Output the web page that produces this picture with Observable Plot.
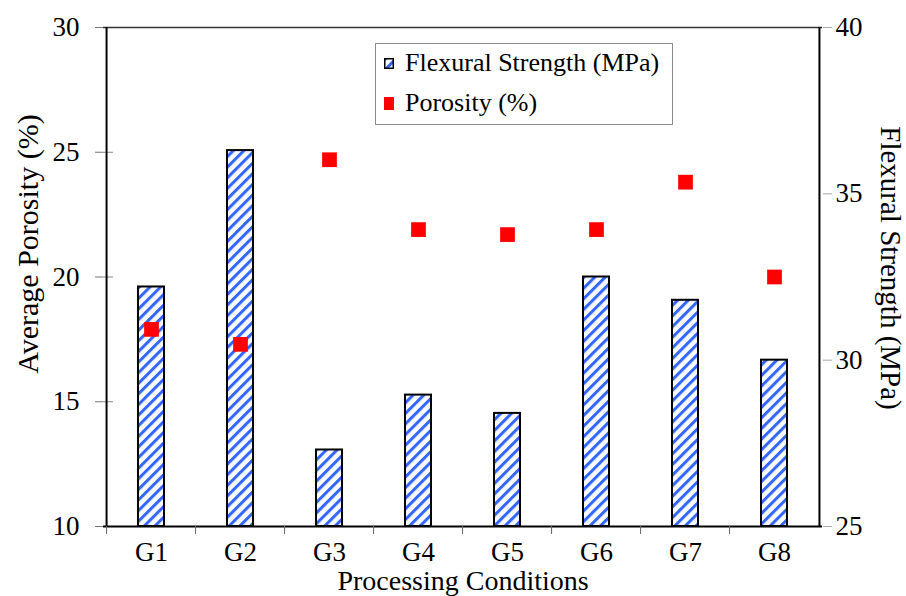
<!DOCTYPE html>
<html><head><meta charset="utf-8">
<script src="https://cdn.jsdelivr.net/npm/d3@7"></script>
<script src="https://cdn.jsdelivr.net/npm/@observablehq/plot@0.6"></script>
<style>
body{margin:0;background:#fff;}
#wrap{position:relative;width:906px;height:596px;overflow:hidden;font-family:"Liberation Serif","Times New Roman",serif;}
.legend{position:absolute;left:375px;top:43px;width:298px;height:82px;border:1.5px solid #8a8a8a;box-sizing:border-box;font-size:26px;color:#000;line-height:1;}
.legend .row{position:absolute;left:9px;display:flex;align-items:center;white-space:nowrap;}
.legend .sw{display:block;margin-right:11px;box-sizing:border-box;}
</style></head><body><div id="wrap"></div>
<script>
const categories = ["G1","G2","G3","G4","G5","G6","G7","G8"];
const flexural = [32.2, 36.3, 27.3, 28.95, 28.4, 32.5, 31.8, 30.0];
const porosity = [17.9, 17.3, 24.7, 21.9, 21.7, 21.9, 23.8, 20.0];
const porosityTicks = [10, 15, 20, 25, 30];
const flexuralTicks = [25, 30, 35, 40];
const porDomain = [10, 30];
const flexDomain = [25, 40];

const toPor = f => porDomain[0] + (f - flexDomain[0]) * (porDomain[1] - porDomain[0]) / (flexDomain[1] - flexDomain[0]);
const fromPor = p => flexDomain[0] + (p - porDomain[0]) * (flexDomain[1] - flexDomain[0]) / (porDomain[1] - porDomain[0]);

const rows = categories.map((c, i) => ({c, fs: flexural[i], por: porosity[i]}));

const W = 906, H = 596, mL = 103, mR = 84, mT = 27, mB = 70;
const step = (W - mL - mR) / categories.length;
const font = "Liberation Serif, Times New Roman, serif";

const tickLine = {draw(context, l) { context.moveTo(0, 0); context.lineTo(0, -l); }};

const svg = Plot.plot({
  width: W, height: H,
  marginLeft: mL, marginRight: mR, marginTop: mT, marginBottom: mB,
  style: {fontFamily: font, fontSize: "27px", color: "#000", background: "#fff", overflow: "visible"},
  x: {domain: categories, paddingInner: 0.71, paddingOuter: 0.355, axis: null},
  y: {domain: porDomain, axis: null},
  marks: [
    Plot.barY(rows, {x: "c", y1: porDomain[0], y2: d => toPor(d.fs), fill: "url(#hatch)", stroke: "#000", strokeWidth: 2}),
    Plot.dot(rows, {x: "c", y: "por", symbol: "square", r: 8.3, fill: "#ff0000"}),
    // inner ticks on the left axis
    Plot.vector(porosityTicks, {y: d => d, frameAnchor: "left", rotate: 90, length: 9, anchor: "start", shape: tickLine, stroke: "#888", strokeWidth: 1.2}),
    // frame lines
    Plot.ruleY([porDomain[1]], {stroke: "#333", strokeWidth: 1.5}),
    Plot.ruleY([porDomain[0]], {stroke: "#000", strokeWidth: 2.2}),
    Plot.ruleX([categories[0]], {x: d => d, dx: -step / 2, stroke: "#000", strokeWidth: 2}),
    Plot.ruleX([categories[categories.length - 1]], {x: d => d, dx: step / 2, stroke: "#000", strokeWidth: 2}),
    // left axis
    Plot.axisY(porosityTicks, {anchor: "left", tickSize: 8, tickPadding: 16, stroke: "#777", fill: "#000", fontSize: 27, label: null}),
    // right axis
    Plot.axisY(flexuralTicks.map(toPor), {anchor: "right", tickSize: 9, tickPadding: 4, stroke: "#aaa", fill: "#000", fontSize: 27, tickFormat: v => String(Math.round(fromPor(v))), label: null}),
    // x axis
    Plot.axisX({anchor: "bottom", tickSize: 8, dx: -step / 2, tickFormat: () => "", stroke: "#666", label: null}),
    Plot.axisX({anchor: "bottom", tickSize: 0, tickPadding: 15, fill: "#000", fontSize: 27, label: null}),
    // titles
    Plot.text(["Average Porosity (%)"], {frameAnchor: "left", textAnchor: "middle", lineAnchor: "middle", dx: -75, dy: -33, rotate: -90, fontSize: 30, fill: "#000"}),
    Plot.text(["Flexural Strength (MPa)"], {frameAnchor: "right", textAnchor: "middle", lineAnchor: "middle", dx: 68, dy: -9, rotate: 90, fontSize: 29, fill: "#000"}),
    Plot.text(["Processing Conditions"], {frameAnchor: "bottom", textAnchor: "middle", lineAnchor: "middle", dy: 55, fontSize: 28, fill: "#000"})
  ]
});

d3.select(svg).insert("defs", ":first-child").html(
  '<pattern id="hatch" patternUnits="userSpaceOnUse" width="7.5" height="7.5" patternTransform="rotate(45)">' +
  '<rect width="7.5" height="7.5" fill="#fbfcff"></rect><rect width="3" height="7.5" fill="#3366ff"></rect></pattern>'
);

const wrap = document.getElementById("wrap");
wrap.appendChild(svg);

const legend = document.createElement("div");
legend.className = "legend";
legend.innerHTML =
  '<div class="row" style="top:6px;left:8px"><svg class="sw" width="10" height="11" style="margin-right:11px"><rect x="0.75" y="0.75" width="8.5" height="9.5" fill="url(#hatch)" stroke="#000" stroke-width="1.5"></rect></svg><span>Flexural Strength (MPa)</span></div>' +
  '<div class="row" style="top:46px;left:8px"><span class="sw" style="background:#ff0000;width:10px;height:13px"></span><span>Porosity (%)</span></div>';
wrap.appendChild(legend);
</script>
</body></html>
